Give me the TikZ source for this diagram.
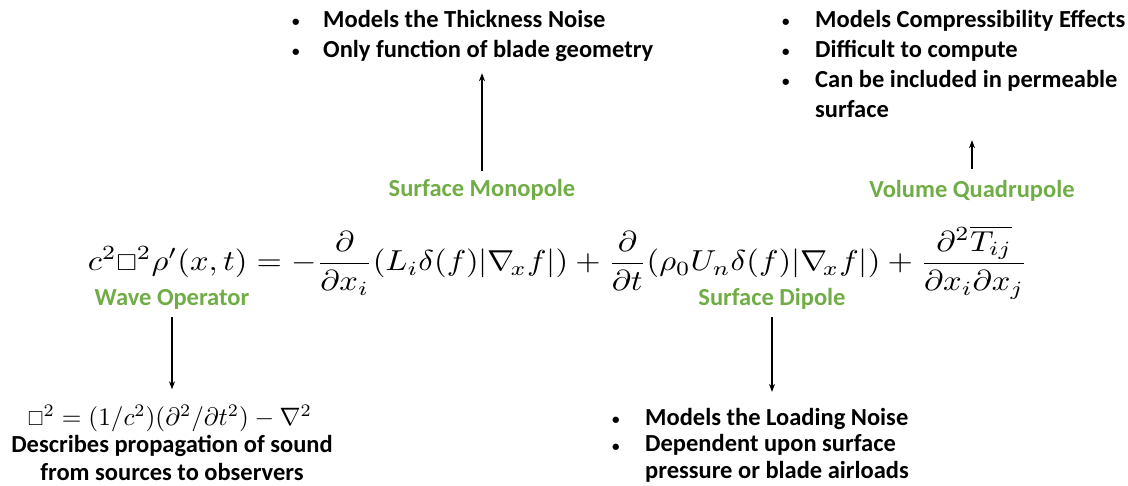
\documentclass[tikz,border=0pt]{standalone}
\usepackage{amsmath,amssymb,graphicx}
\usepackage{fontspec}
\setmainfont{Carlito}
\usetikzlibrary{arrows.meta}
\definecolor{lblgreen}{RGB}{112,173,71}
\tikzset{
  lbl/.style={font=\fontsize{24.5}{28}\selectfont\bfseries, text=lblgreen, inner sep=0pt, anchor=base},
  txt/.style={font=\fontsize{24.5}{30}\selectfont\bfseries, inner sep=0pt, align=left},
  conn/.style={line width=1.1pt, -{Stealth[length=8pt,width=6pt]}}
}
\newcommand{\bul}{\raisebox{1pt}{\fontsize{15}{15}\selectfont\textbullet}}
\newcommand{\blist}[2]{\begin{tabular}[t]{@{}p{#1}@{}l@{}}#2\end{tabular}}
\newcommand{\sq}{\mathord{\scalebox{0.8}{$\square$}}}
\begin{document}
\begin{tikzpicture}[x=1pt,y=-1pt]
\useasboundingbox (0,0) rectangle (1128,486);
% equation
\node[inner sep=0pt, anchor=center] (eq) at (558,262.5) {\resizebox*{940pt}{73pt}{$\displaystyle
c^2\sq^2\rho'(x,t) = -\frac{\partial}{\partial x_i}(L_i\delta(f)|\nabla_{\!x} f|) + \frac{\partial}{\partial t}(\rho_0U_n\delta(f)|\nabla_{\!x} f|) + \frac{\partial^2\overline{T_{ij}}}{\partial x_i\partial x_j}$}};
% labels
\node[lbl] (mono) at (482,197) {Surface Monopole};
\node[lbl] (wave) at (172,306) {Wave Operator};
\node[lbl] (dip) at (772,306) {Surface Dipole};
\node[lbl] (quad) at (972,198) {Volume Quadrupole};
% lists
\node[txt, anchor=base west] (thick) at (292,28) {\blist{31pt}{\bul & Models the Thickness Noise\\ \bul & Only function of blade geometry}};
\node[txt, anchor=base west] (comp) at (782,28) {\blist{33pt}{\bul & Models Compressibility Effects\\ \bul & Difficult to compute\\ \bul & Can be included in permeable\\ & surface}};
\node[font=\fontsize{24.5}{27}\selectfont\bfseries, inner sep=0pt, align=left, anchor=base west] (load) at (612,425) {\blist{33pt}{\bul & Models the Loading Noise\\ \bul & Dependent upon surface\\ & pressure or blade airloads}};
\node[inner sep=0pt, anchor=base] (waveeq) at (170,426) {\resizebox{284pt}{!}{$\sq^2 = (1/c^2)(\partial^2/\partial t^2) - \nabla^2$}};
\node[font=\fontsize{24.5}{28}\selectfont\bfseries, inner sep=0pt, anchor=base] (wavetxt) at (172,453) {\begin{tabular}[t]{@{}c@{}}Describes propagation of sound\\ from sources to observers\end{tabular}};
% connectors
\draw[conn] ([yshift=9pt]mono.north) -- ([yshift=-6pt]mono.north |- thick.south);
\draw[conn] ([yshift=12pt]quad.north) -- ([yshift=-13pt]quad.north |- comp.south);
\draw[conn] ([yshift=-7pt]wave.south) -- ([yshift=16pt]wave.south |- waveeq.north);
\draw[conn] ([yshift=-7pt]dip.south) -- ([yshift=14pt]dip.south |- load.north);
\end{tikzpicture}
\end{document}
